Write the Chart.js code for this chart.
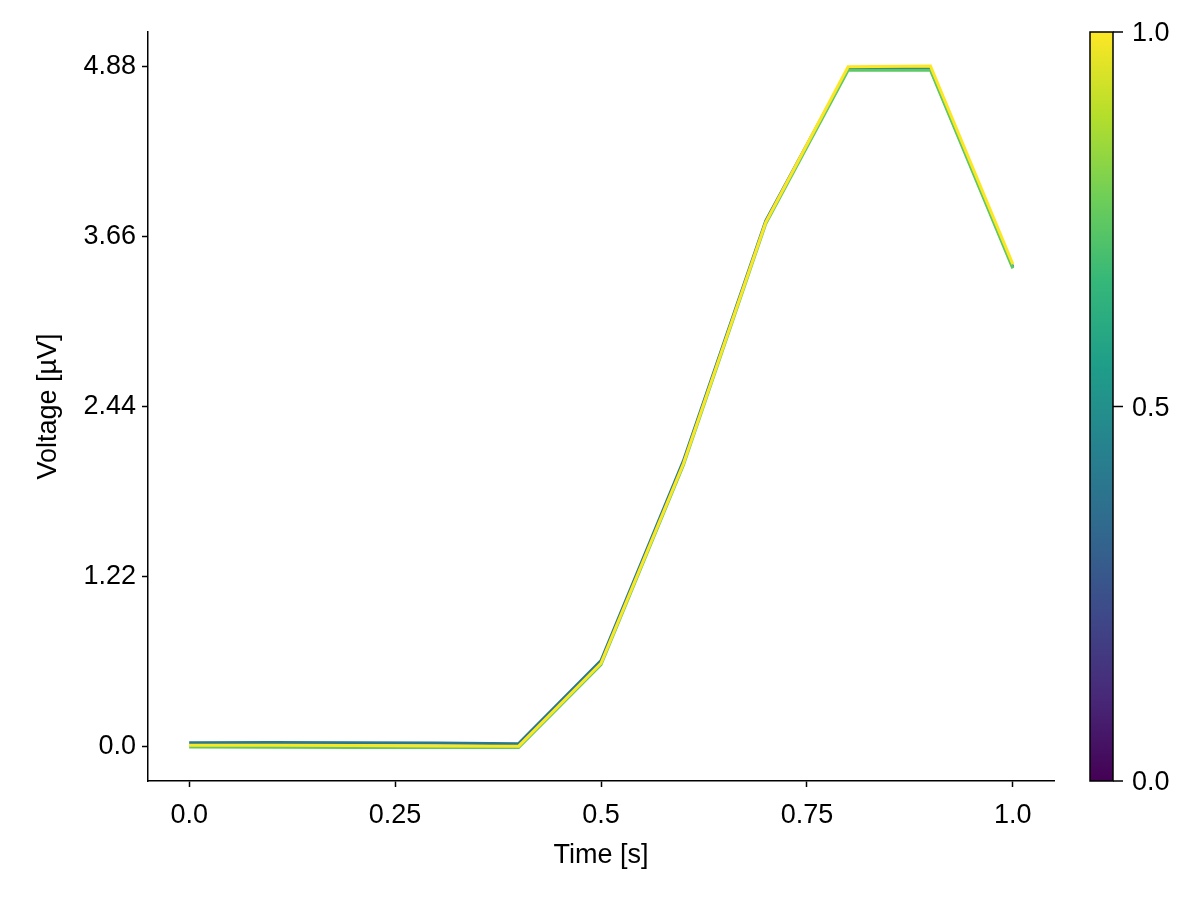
<!DOCTYPE html>
<html>
<head>
<meta charset="utf-8">
<script src="https://cdn.jsdelivr.net/npm/chart.js@4.4.1/dist/chart.umd.min.js"></script>
<style>
  html, body { margin: 0; padding: 0; background: #fff; }
  #wrap { width: 1200px; height: 900px; }
</style>
</head>
<body>
<div id="wrap"><canvas id="voltage"></canvas></div>
<script>
// time points (s)
var timeData = [0.0, 0.1, 0.2, 0.3, 0.4, 0.5, 0.6, 0.7, 0.8, 0.9, 1.0];

// voltage traces (µV)
var traceA = [0.030, 0.032, 0.030, 0.028, 0.024, 0.620, 2.050, 3.770, 4.860, 4.860, 3.440];
var traceB = [0.000, -0.002, -0.003, -0.004, -0.004, 0.590, 2.020, 3.750, 4.850, 4.850, 3.430];
var traceC = [0.012, 0.012, 0.010, 0.008, 0.006, 0.600, 2.030, 3.760, 4.875, 4.880, 3.460];

var traceColors = ["#2a788e", "#5ec962", "#fde725"];

var xTicks = [0.0, 0.25, 0.5, 0.75, 1.0];
var xTickLabels = ["0.0", "0.25", "0.5", "0.75", "1.0"];
var yTicks = [0.0, 1.22, 2.44, 3.66, 4.88];
var yTickLabels = ["0.0", "1.22", "2.44", "3.66", "4.88"];

var cbTicks = [0.0, 0.5, 1.0];
var cbTickLabels = ["0.0", "0.5", "1.0"];
var viridisStops = ["#440154", "#482878", "#3e4989", "#31688e", "#26828e", "#1f9e89", "#35b779", "#6ece58", "#b5de2b", "#fde725"];

var fontFamily = "'Liberation Sans', Arial, sans-serif";
var fontSize = 27;

function toPoints(ys) {
  return timeData.map((t, i) => ({ x: t, y: ys[i] }));
}

// draws the colour bar at the right of the plot
const colorbarPlugin = {
  id: "colorbar",
  afterDraw(chart) {
    const ctx = chart.ctx;
    const area = chart.chartArea;
    const left = 1090, width = 23;
    const top = area.top, bottom = area.bottom;
    const grad = ctx.createLinearGradient(0, bottom, 0, top);
    viridisStops.forEach((c, i) => grad.addColorStop(i / (viridisStops.length - 1), c));
    ctx.save();
    ctx.fillStyle = grad;
    ctx.fillRect(left, top, width, bottom - top);
    ctx.strokeStyle = "#000";
    ctx.lineWidth = 1.5;
    ctx.strokeRect(left, top, width, bottom - top);
    ctx.fillStyle = "#000";
    ctx.font = fontSize + "px " + fontFamily;
    ctx.textBaseline = "middle";
    cbTicks.forEach((v, i) => {
      const y = bottom - v * (bottom - top);
      ctx.beginPath();
      ctx.moveTo(left + width, y);
      ctx.lineTo(left + width + 10, y);
      ctx.stroke();
      ctx.fillText(cbTickLabels[i], left + width + 19, y + 2);
    });
    ctx.restore();
  }
};

const ctx = document.getElementById("voltage").getContext("2d");

new Chart(ctx, {
  type: "line",
  data: {
    // first dataset is drawn on top
    datasets: [
      { label: "trace C", data: toPoints(traceC), borderColor: traceColors[2] },
      { label: "trace B", data: toPoints(traceB), borderColor: traceColors[1] },
      { label: "trace A", data: toPoints(traceA), borderColor: traceColors[0] },
    ],
  },
  options: {
    responsive: true,
    maintainAspectRatio: false,
    animation: false,
    layout: { padding: { left: 0, top: 32, right: 146, bottom: 0 } },
    elements: {
      point: { radius: 0 },
      line: { borderWidth: 3, tension: 0 },
    },
    plugins: {
      legend: { display: false },
      tooltip: { enabled: false },
    },
    scales: {
      x: {
        type: "linear",
        min: -0.05,
        max: 1.05,
        afterBuildTicks: (scale) => { scale.ticks = xTicks.map((v) => ({ value: v })); },
        afterFit: (scale) => { scale.height = 119; },
        ticks: {
          color: "#000",
          font: { size: fontSize, family: fontFamily },
          padding: 12,
          maxRotation: 0,
          callback: (v) => xTickLabels[xTicks.indexOf(v)],
        },
        grid: { drawOnChartArea: false, drawTicks: true, tickLength: 6, tickColor: "#000", tickWidth: 1.5 },
        border: { display: true, color: "#000", width: 1.5 },
        title: {
          display: true,
          text: "Time [s]",
          color: "#000",
          font: { size: fontSize, family: fontFamily },
          padding: { bottom: 28 },
        },
      },
      y: {
        type: "linear",
        min: -0.2437,
        max: 5.124,
        afterBuildTicks: (scale) => { scale.ticks = yTicks.map((v) => ({ value: v })); },
        afterFit: (scale) => { scale.width = 148; },
        ticks: {
          color: "#000",
          font: { size: fontSize, family: fontFamily },
          padding: 6,
          callback: (v) => yTickLabels[yTicks.indexOf(v)],
        },
        grid: { drawOnChartArea: false, drawTicks: true, tickLength: 6, tickColor: "#000", tickWidth: 1.5 },
        border: { display: true, color: "#000", width: 1.5 },
        title: {
          display: true,
          text: "Voltage [µV]",
          color: "#000",
          font: { size: fontSize, family: fontFamily },
          padding: { top: 32 },
        },
      },
    },
  },
  plugins: [colorbarPlugin],
});
</script>
</body>
</html>
